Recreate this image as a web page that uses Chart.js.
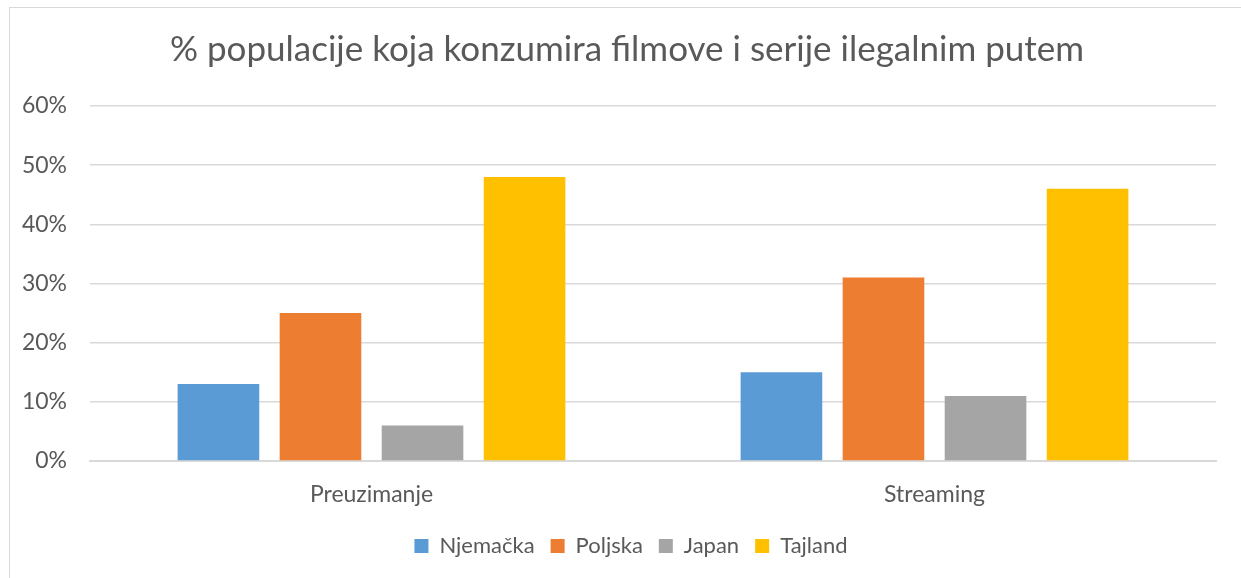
<!DOCTYPE html>
<html>
<head>
<meta charset="utf-8">
<script src="https://cdn.jsdelivr.net/npm/chart.js@4/dist/chart.umd.min.js"></script>
<style>
  html, body { margin: 0; padding: 0; background: #ffffff; overflow: hidden; }
  #frame {
    position: absolute; left: 9px; top: 7px; width: 1300px; height: 640px;
    border: 1px solid #d9d9d9; box-sizing: border-box;
  }
  #wrap { position: absolute; left: 0; top: 0; width: 1241px; height: 578px; }
</style>
</head>
<body>
<div id="frame"></div>
<div id="wrap"><canvas id="mycanvas" width="1241" height="578"></canvas></div>
<script>
const categories = ["Preuzimanje", "Streaming"];
const njemacka = [13, 15];
const poljska = [25, 31];
const japan = [6, 11];
const tajland = [48, 46];
const yTicks = [0, 10, 20, 30, 40, 50, 60];

const textColor = "#595959";
const fontFamily = "Lato, 'Open Sans', sans-serif";

function makeSet(label, data, color) {
  return {
    label: label,
    data: data,
    backgroundColor: color,
    borderWidth: 0,
    categoryPercentage: 0.725,
    barPercentage: 0.8,
  };
}

// title and legend are centred on the chart frame, not on the plot area
const shiftBlocks = {
  id: "shiftBlocks",
  afterLayout(chart) {
    if (chart.titleBlock) chart.titleBlock.left = 38;
    if (chart.legend) chart.legend.left = 46;
  },
};

let ctx = document.getElementById("mycanvas");
const myChart = new Chart(ctx, {
  type: "bar",
  plugins: [shiftBlocks],
  data: {
    labels: categories,
    datasets: [
      makeSet("Njemačka", njemacka, "#5B9BD5"),
      makeSet("Poljska", poljska, "#ED7D31"),
      makeSet("Japan", japan, "#A5A5A5"),
      makeSet("Tajland", tajland, "#FFC000"),
    ],
  },
  options: {
    responsive: false,
    animation: false,
    layout: { padding: { left: 0, right: 25, top: 0, bottom: 11 } },
    plugins: {
      title: {
        display: true,
        text: "% populacije koja konzumira filmove i serije ilegalnim putem",
        color: textColor,
        font: { size: 35, family: fontFamily, weight: "normal" },
        padding: { top: 29, bottom: 35 },
      },
      legend: {
        position: "bottom",
        labels: {
          color: textColor,
          font: { size: 22, family: fontFamily },
          boxWidth: 14,
          boxHeight: 14,
          padding: 16,
        },
      },
      tooltip: { enabled: false },
    },
    scales: {
      x: {
        grid: { display: false, drawTicks: false },
        border: { display: true, color: "#d9d9d9", width: 2 },
        ticks: { color: textColor, font: { size: 23, family: fontFamily }, padding: 20 },
        afterFit: (scale) => { scale.height = 58; },
      },
      y: {
        min: 0,
        max: 60,
        afterBuildTicks: (scale) => { scale.ticks = yTicks.map((v) => ({ value: v })); },
        grid: { color: "#d9d9d9", lineWidth: 1.5, drawTicks: false },
        border: { display: false },
        ticks: {
          color: textColor,
          font: { size: 23, family: fontFamily },
          padding: 23,
          callback: (v) => v + "%",
        },
        afterFit: (scale) => { scale.width = 90; },
      },
    },
  },
});
</script>
</body>
</html>
